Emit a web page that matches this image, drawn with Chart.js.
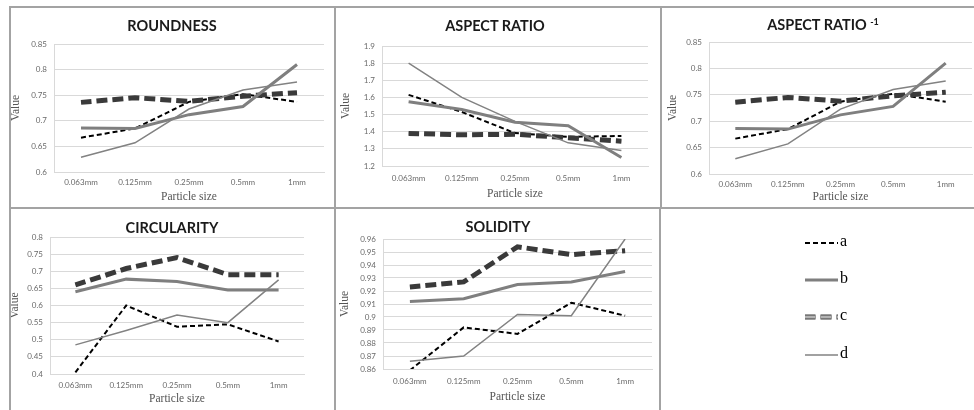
<!DOCTYPE html>
<html>
<head>
<meta charset="utf-8">
<script src="https://cdn.jsdelivr.net/npm/chart.js@4"></script>
<style>
  html, body { margin: 0; padding: 0; background: #fff; }
  body { position: relative; width: 974px; height: 410px; overflow: hidden; }
  .panel { position: absolute; }
  .panel canvas { position: absolute; left: 0; top: 0; }
  .ttl { position: absolute; font: bold 14.5px Lato, "Open Sans", sans-serif; color: #1a1a1a;
         white-space: nowrap; transform: translate(-50%, -50%); }
  .ttl sup { font-size: 9px; vertical-align: 5px; }
  .rule { position: absolute; background: #a3a3a3; }
  .key { position: absolute; font: 16px "Liberation Serif", "DejaVu Serif", serif; color: #000; }
</style>
</head>
<body>
<script>
// Particle size classes on the category axis
const categories = ['0.063mm', '0.125mm', '0.25mm', '0.5mm', '1mm'];

// Roundness
const roundnessA = [0.667, 0.685, 0.737, 0.752, 0.737];
const roundnessB = [0.686, 0.685, 0.712, 0.728, 0.810];
const roundnessC = [0.736, 0.745, 0.738, 0.748, 0.755];
const roundnessD = [0.629, 0.657, 0.723, 0.760, 0.776];

// Aspect ratio
const aspectA = [1.615, 1.515, 1.392, 1.370, 1.375];
const aspectB = [1.575, 1.530, 1.455, 1.435, 1.250];
const aspectC = [1.390, 1.382, 1.385, 1.365, 1.345];
const aspectD = [1.800, 1.600, 1.460, 1.335, 1.290];

// Inverse aspect ratio
const invAspectA = [0.667, 0.685, 0.737, 0.752, 0.737];
const invAspectB = [0.686, 0.685, 0.712, 0.728, 0.810];
const invAspectC = [0.736, 0.745, 0.738, 0.748, 0.755];
const invAspectD = [0.629, 0.657, 0.723, 0.760, 0.776];

// Circularity
const circularityA = [0.405, 0.600, 0.538, 0.545, 0.495];
const circularityB = [0.640, 0.677, 0.670, 0.645, 0.645];
const circularityC = [0.660, 0.708, 0.740, 0.690, 0.690];
const circularityD = [0.485, 0.527, 0.572, 0.550, 0.675];

// Solidity
const solidityA = [0.859, 0.892, 0.887, 0.911, 0.901];
const solidityB = [0.912, 0.914, 0.925, 0.927, 0.935];
const solidityC = [0.923, 0.927, 0.954, 0.948, 0.951];
const solidityD = [0.866, 0.870, 0.902, 0.901, 0.960];

// Series styles (shared by every panel and the key)
const STYLE_A = { color: '#000000', width: 2, dash: [5, 3], offset: 0 };
const STYLE_B = { color: '#7f7f7f', width: 3, dash: [], offset: 0 };
const STYLE_C_EDGE = { color: '#3a3a3a', width: 5, dash: [11, 5], offset: 0.5 };
const STYLE_C_FILL = { color: '#b3b3b3', width: 3, dash: [10, 6], offset: 0 };
const STYLE_D = { color: '#828282', width: 1.5, dash: [], offset: 0 };

function ds(label, data, st) {
  return { label, data, borderColor: st.color, borderWidth: st.width, borderDash: st.dash,
           borderDashOffset: st.offset, pointRadius: 0, tension: 0, fill: false,
           borderCapStyle: 'butt', borderJoinStyle: 'miter' };
}

function seriesSet(a, b, c, d) {
  return [
    ds('d', d, STYLE_D),
    ds('b', b, STYLE_B),
    ds('c', c, STYLE_C_EDGE),
    ds('c', c, STYLE_C_FILL),
    ds('a', a, STYLE_A)
  ];
}

function addRule(x, y, w, h) {
  const r = document.createElement('div');
  r.className = 'rule';
  Object.assign(r.style, { left: x + 'px', top: y + 'px', width: w + 'px', height: h + 'px' });
  document.body.appendChild(r);
}

function makePanel(p) {
  const box = document.createElement('div');
  box.className = 'panel';
  Object.assign(box.style, { left: p.x + 'px', top: p.y + 'px', width: p.w + 'px', height: p.h + 'px' });
  const cv = document.createElement('canvas');
  cv.width = p.w; cv.height = p.h;
  cv.style.width = p.w + 'px'; cv.style.height = p.h + 'px';
  box.appendChild(cv);
  document.body.appendChild(box);

  const ttl = document.createElement('div');
  ttl.className = 'ttl';
  ttl.innerHTML = p.title;
  ttl.style.left = p.tx + 'px';
  ttl.style.top = p.ty + 'px';
  document.body.appendChild(ttl);

  const tickFont = { family: 'Lato, "Open Sans", sans-serif', size: 8 };
  const axisFont = { family: '"Liberation Serif", "DejaVu Serif", serif', size: 11.5 };

  new Chart(cv, {
    type: 'line',
    data: { labels: categories, datasets: p.series },
    options: {
      responsive: false,
      animation: false,
      devicePixelRatio: 1,
      layout: { padding: { top: p.plot.t - p.y, right: p.x + p.w - p.plot.r, left: 0, bottom: 0 } },
      plugins: { legend: { display: false }, tooltip: { enabled: false }, title: { display: false } },
      scales: {
        x: {
          offset: true,
          grid: { display: false, drawTicks: false },
          border: { display: true, color: '#d9d9d9', width: 1 },
          ticks: { font: tickFont, color: '#6a6a6a', padding: p.xPad, maxRotation: 0, autoSkip: false },
          title: { display: true, text: 'Particle size', font: axisFont, color: '#555',
                   padding: { top: 0, bottom: p.xTitleBottom } },
          afterFit(s) { s.height = p.y + p.h - p.plot.b; }
        },
        y: {
          min: p.min, max: p.max,
          grid: { color: '#d9d9d9', drawTicks: false, lineWidth: 1 },
          border: { display: true, color: '#d9d9d9', width: 1 },
          ticks: { stepSize: p.step, font: tickFont, color: '#6a6a6a', padding: 7,
                   callback: v => String(Number(Number(v).toFixed(3))) },
          title: { display: true, text: 'Value', font: axisFont, color: '#555',
                   padding: { top: p.yTitleLeft - 6.9, bottom: 0 } },
          afterFit(s) { s.width = p.plot.l - p.x; }
        }
      }
    }
  });
}

makePanel({ title: 'ROUNDNESS', tx: 172, ty: 25,
  x: 10, y: 7, w: 325, h: 201, plot: { l: 54, t: 44, r: 324, b: 172 },
  min: 0.6, max: 0.85, step: 0.05, xPad: 6, xTitleBottom: 4.4, yTitleLeft: 6,
  series: seriesSet(roundnessA, roundnessB, roundnessC, roundnessD) });

makePanel({ title: 'ASPECT RATIO', tx: 495, ty: 25,
  x: 335, y: 7, w: 326, h: 201, plot: { l: 382, t: 46, r: 648, b: 166 },
  min: 1.2, max: 1.9, step: 0.1, xPad: 8, xTitleBottom: 7.4, yTitleLeft: 11,
  series: seriesSet(aspectA, aspectB, aspectC, aspectD) });

makePanel({ title: 'ASPECT RATIO <sup>-1</sup>', tx: 823, ty: 24,
  x: 661, y: 7, w: 313, h: 201, plot: { l: 709, t: 42, r: 972, b: 174 },
  min: 0.6, max: 0.85, step: 0.05, xPad: 6, xTitleBottom: 4.4, yTitleLeft: 12,
  series: seriesSet(invAspectA, invAspectB, invAspectC, invAspectD) });

makePanel({ title: 'CIRCULARITY', tx: 172, ty: 227,
  x: 9, y: 208, w: 326, h: 202, plot: { l: 50, t: 237, r: 304, b: 374 },
  min: 0.4, max: 0.8, step: 0.05, xPad: 7, xTitleBottom: 4.4, yTitleLeft: 6,
  series: seriesSet(circularityA, circularityB, circularityC, circularityD) });

makePanel({ title: 'SOLIDITY', tx: 498, ty: 226,
  x: 335, y: 208, w: 325, h: 202, plot: { l: 383, t: 239, r: 652, b: 369 },
  min: 0.86, max: 0.96, step: 0.01, xPad: 8, xTitleBottom: 6.4, yTitleLeft: 10,
  series: seriesSet(solidityA, solidityB, solidityC, solidityD) });

// Panel frame
addRule(10, 6, 964, 2);      // top edge
addRule(9, 6, 2, 404);       // left edge
addRule(334, 6, 2, 404);     // first divider
addRule(660, 6, 2, 202);     // second divider, upper row
addRule(659, 207, 2, 203);   // second divider, lower row
addRule(10, 207, 964, 2);    // row divider

// Key for the four series
const keyItems = [
  { label: 'a', y: 243, styles: [STYLE_A] },
  { label: 'b', y: 280, styles: [STYLE_B] },
  { label: 'c', y: 317, styles: [STYLE_C_EDGE, STYLE_C_FILL] },
  { label: 'd', y: 355, styles: [STYLE_D] }
];
const svgNS = 'http://www.w3.org/2000/svg';
const keySvg = document.createElementNS(svgNS, 'svg');
keySvg.setAttribute('width', 974);
keySvg.setAttribute('height', 410);
keySvg.style.position = 'absolute';
keySvg.style.left = '0px';
keySvg.style.top = '0px';
document.body.appendChild(keySvg);
keyItems.forEach(it => {
  it.styles.forEach(st => {
    const ln = document.createElementNS(svgNS, 'line');
    ln.setAttribute('x1', 805); ln.setAttribute('x2', 838);
    ln.setAttribute('y1', it.y); ln.setAttribute('y2', it.y);
    ln.setAttribute('stroke', st.color);
    ln.setAttribute('stroke-width', st.width);
    if (st.dash.length) {
      ln.setAttribute('stroke-dasharray', st.dash.join(' '));
      ln.setAttribute('stroke-dashoffset', st.offset);
    }
    keySvg.appendChild(ln);
  });
  const t = document.createElement('div');
  t.className = 'key';
  t.textContent = it.label;
  t.style.left = '840px';
  t.style.top = (it.y - 11) + 'px';
  document.body.appendChild(t);
});
</script>
</body>
</html>
